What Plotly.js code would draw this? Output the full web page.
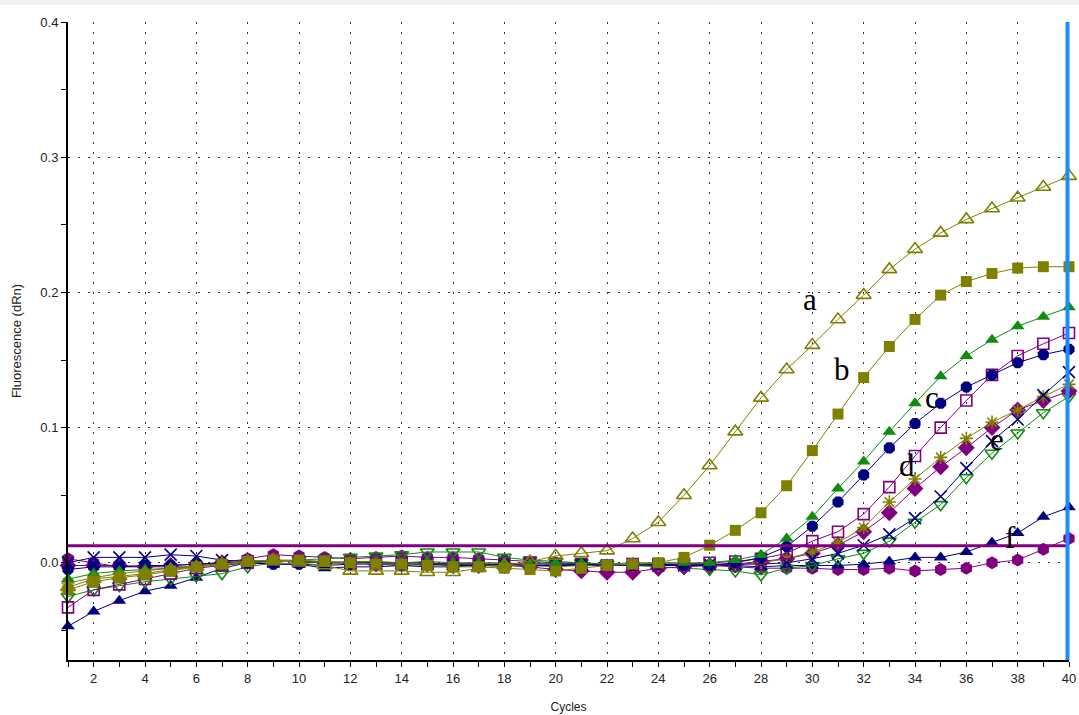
<!DOCTYPE html>
<html>
<head>
<meta charset="utf-8">
<script src="https://cdn.plot.ly/plotly-3.0.1.min.js"></script>
<style>html,body{margin:0;padding:0;background:#fff;}#chart{width:1079px;height:715px;}</style>
</head>
<body>
<div id="chart"></div>
<script>
const cycles = Array.from({length: 40}, (_, i) => i + 1);

const seriesA = [-0.018,-0.012,-0.010,-0.008,-0.005,-0.003,-0.001,0.001,0.002,0.000,-0.002,-0.006,-0.006,-0.006,-0.007,-0.007,-0.004,-0.002,0.001,0.005,0.007,0.009,0.018,0.030,0.050,0.072,0.097,0.122,0.143,0.161,0.180,0.198,0.217,0.232,0.244,0.254,0.262,0.270,0.278,0.286];
const seriesB = [-0.020,-0.014,-0.011,-0.009,-0.006,-0.003,-0.001,0.001,0.002,0.002,0.001,0.000,-0.001,-0.001,-0.002,-0.003,-0.003,-0.004,-0.005,-0.006,-0.004,-0.002,-0.001,0.000,0.004,0.013,0.024,0.037,0.057,0.083,0.110,0.137,0.160,0.180,0.198,0.208,0.214,0.218,0.219,0.219];
const seriesC = [-0.012,-0.008,-0.006,-0.005,-0.004,-0.003,-0.001,0.000,0.001,0.001,0.000,0.001,0.001,0.000,0.001,0.000,0.000,0.000,-0.001,0.000,0.000,-0.001,0.000,0.000,0.000,0.000,0.002,0.006,0.018,0.034,0.055,0.075,0.097,0.118,0.138,0.153,0.165,0.175,0.182,0.189];
const seriesD = [-0.033,-0.020,-0.016,-0.012,-0.008,-0.004,-0.002,0.000,0.001,0.001,0.000,0.000,0.000,-0.001,-0.001,0.000,-0.001,-0.001,0.000,-0.001,-0.001,-0.002,-0.001,-0.001,-0.001,0.000,0.001,0.003,0.007,0.016,0.023,0.036,0.056,0.079,0.100,0.120,0.139,0.153,0.162,0.170];
const seriesE = [-0.005,-0.003,-0.003,-0.002,-0.002,-0.001,0.000,0.000,-0.001,-0.001,-0.002,-0.001,-0.001,-0.002,-0.001,-0.002,-0.002,-0.001,-0.002,-0.002,-0.001,-0.002,-0.002,-0.001,-0.002,-0.002,0.000,0.004,0.012,0.027,0.045,0.065,0.085,0.103,0.118,0.130,0.139,0.148,0.154,0.158];
const seriesF = [0.000,0.004,0.004,0.004,0.006,0.005,0.002,0.001,0.001,0.001,0.000,0.000,0.000,0.000,0.000,-0.001,-0.001,-0.001,-0.001,-0.001,-0.001,-0.002,-0.001,-0.002,-0.002,-0.001,-0.001,-0.001,0.000,0.003,0.007,0.013,0.021,0.033,0.049,0.070,0.090,0.106,0.124,0.141];
const seriesG = [-0.015,-0.011,-0.008,-0.006,-0.004,-0.002,0.000,0.001,0.002,0.001,0.001,0.000,0.000,-0.001,-0.001,-0.001,-0.002,-0.002,-0.002,-0.003,-0.002,-0.002,-0.002,-0.002,-0.002,-0.002,-0.001,0.000,0.003,0.008,0.015,0.026,0.045,0.062,0.078,0.092,0.104,0.113,0.123,0.132];
const seriesH = [-0.002,-0.002,-0.002,-0.003,-0.002,-0.001,0.000,0.001,0.001,0.001,0.000,0.000,-0.001,-0.001,-0.001,-0.002,-0.002,-0.002,-0.003,-0.005,-0.006,-0.007,-0.007,-0.004,-0.003,-0.002,-0.001,0.001,0.003,0.007,0.013,0.023,0.037,0.055,0.071,0.085,0.100,0.113,0.120,0.127];
const seriesI = [-0.025,-0.020,-0.017,-0.014,-0.012,-0.010,-0.008,-0.003,0.000,0.002,0.003,0.004,0.005,0.006,0.008,0.008,0.008,0.004,0.002,0.001,0.000,-0.001,-0.002,-0.003,-0.004,-0.005,-0.006,-0.009,-0.004,-0.002,0.003,0.007,0.016,0.030,0.043,0.063,0.081,0.096,0.111,0.123];
const seriesJ = [-0.047,-0.036,-0.028,-0.021,-0.017,-0.011,-0.004,0.000,-0.001,-0.001,-0.004,-0.003,-0.003,-0.002,-0.003,-0.003,-0.002,-0.002,-0.002,-0.002,-0.002,-0.002,-0.002,-0.001,-0.002,-0.002,-0.002,-0.003,-0.002,-0.002,-0.002,-0.001,0.001,0.004,0.004,0.008,0.015,0.022,0.034,0.041];
const seriesK = [0.003,0.000,-0.003,-0.003,-0.003,-0.003,0.000,0.003,0.006,0.005,0.004,0.003,0.004,0.005,0.004,0.004,0.003,0.002,0.001,0.000,-0.001,-0.002,-0.002,-0.001,-0.001,-0.002,-0.003,-0.004,-0.004,-0.004,-0.005,-0.005,-0.004,-0.006,-0.005,-0.004,0.000,0.002,0.010,0.018];

const thresholdValue = [0.0126];
const yTickVals = [0.0, 0.1, 0.2, 0.3, 0.4];
const yTickText = ["0.0", "0.1", "0.2", "0.3", "0.4"];
const xTickVals = [2,4,6,8,10,12,14,16,18,20,22,24,26,28,30,32,34,36,38,40];
const labelText = ["a", "b", "c", "d", "e", "f"];
const labelX = [29.9, 31.15, 34.66, 33.68, 37.2, 37.74];
const labelY = [0.195, 0.143, 0.122, 0.072, 0.091, 0.0185];

const OLIVE = "#808000", GREEN = "#118c11", NAVY = "#000080", PURPLE = "#800080";

function tr(y, color, symbol, size) {
  const open = symbol.indexOf("open") >= 0;
  return {
    x: cycles, y: y, type: "scatter", mode: "lines+markers",
    line: {color: color, width: 1},
    marker: {color: color, symbol: symbol, size: size, line: {color: color, width: open ? 1.6 : 0}},
    showlegend: false, hoverinfo: "x+y", cliponaxis: false
  };
}

const data = [
  tr(seriesK, PURPLE, "hexagon", 13),
  tr(seriesJ, NAVY, "triangle-up", 12),
  tr(seriesI, GREEN, "triangle-down-open", 12),
  tr(seriesH, PURPLE, "diamond", 13),
  tr(seriesG, OLIVE, "asterisk-open", 11),
  tr(seriesF, NAVY, "x-thin-open", 12),
  tr(seriesD, PURPLE, "square-open", 11),
  tr(seriesE, NAVY, "octagon", 12),
  tr(seriesC, GREEN, "triangle-up", 12),
  tr(seriesB, OLIVE, "square", 11),
  tr(seriesA, OLIVE, "triangle-up-open", 13)
];

const annotations = labelText.map((t, i) => ({
  x: labelX[i], y: labelY[i], xref: "x", yref: "y", text: t, showarrow: false,
  font: {family: "Liberation Serif, Times New Roman, serif", size: 31, color: "#000"}
}));

const layout = {
  width: 1079, height: 715,
  margin: {l: 68, r: 10, t: 22, b: 55, pad: 0},
  paper_bgcolor: "#fff", plot_bgcolor: "#fff",
  font: {family: "Liberation Sans, Arial, sans-serif", size: 12, color: "#222"},
  xaxis: {
    range: [1, 40], tickvals: xTickVals, ticks: "outside", ticklen: 5, tickcolor: "#000",
    showline: true, linecolor: "#000", linewidth: 2,
    showgrid: true, gridcolor: "#333", gridwidth: 1, griddash: "2px,8px",
    zeroline: false, minor: {dtick: 1, tick0: 1, ticks: "outside", ticklen: 5, tickcolor: "#000", showgrid: false},
    title: {text: "Cycles", font: {size: 12, color: "#222"}, standoff: 18},
    tickfont: {size: 13, color: "#222"}
  },
  yaxis: {
    range: [-0.0719, 0.4], tickvals: yTickVals, ticktext: yTickText, ticks: "outside", ticklen: 5, tickcolor: "#000",
    showline: true, linecolor: "#000", linewidth: 2,
    showgrid: true, gridcolor: "#333", gridwidth: 1, griddash: "2px,8px",
    zeroline: false, minor: {dtick: 0.05, tick0: 0, ticks: "outside", ticklen: 5, tickcolor: "#000", showgrid: false},
    title: {text: "Fluorescence (dRn)", font: {size: 13, color: "#222"}, standoff: 16},
    tickfont: {size: 13, color: "#222"}
  },
  shapes: [
    {type: "line", xref: "paper", x0: 0, x1: 1, yref: "y", y0: thresholdValue[0], y1: thresholdValue[0], line: {color: PURPLE, width: 3}},
    {type: "line", xref: "paper", x0: 0.9985, x1: 0.9985, yref: "paper", y0: 0, y1: 1, line: {color: "#1a8cff", width: 4}},
    {type: "rect", xref: "paper", yref: "paper", x0: -0.07, x1: 1.01, y0: 1.0266, y1: 1.04, fillcolor: "#f0f0f0", line: {width: 0}, layer: "below"}
  ],
  annotations: annotations
};

Plotly.newPlot("chart", data, layout, {displayModeBar: false, staticPlot: true});
</script>
</body>
</html>
